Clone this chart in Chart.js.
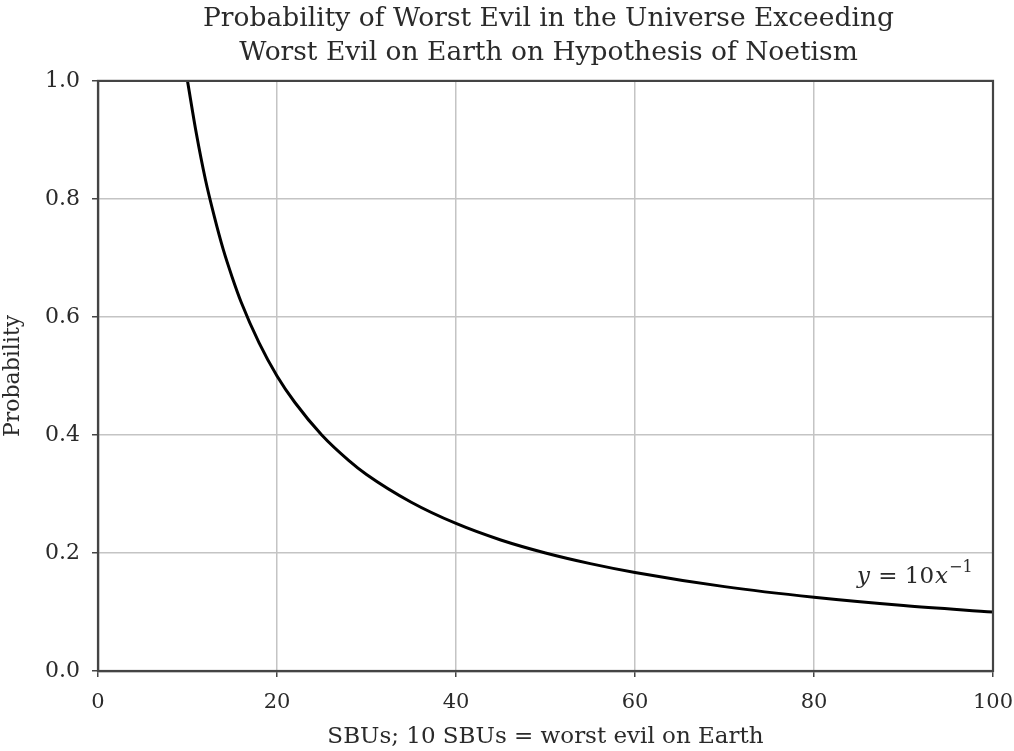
<!DOCTYPE html>
<html>
<head>
<meta charset="utf-8">
<script src="https://cdn.jsdelivr.net/npm/chart.js@4.4.1/dist/chart.umd.min.js"></script>
<style>
  html, body { margin: 0; padding: 0; background: #fff; }
  #wrap { width: 1014px; height: 751px; }
</style>
</head>
<body>
<div id="wrap"><canvas id="chart"></canvas></div>
<script>
// values
const sbuValues = [10, 11, 12, 13, 14, 15, 16, 18, 20, 22, 25, 28, 30, 35, 40, 45, 50, 55, 60, 70, 80, 90, 100];
const probValues = [1.0, 0.91, 0.833, 0.77, 0.714, 0.667, 0.625, 0.556, 0.5, 0.455, 0.4, 0.357, 0.333, 0.286, 0.25, 0.222, 0.2, 0.182, 0.167, 0.143, 0.125, 0.111, 0.1];
const xTicks = [0, 20, 40, 60, 80, 100];
const yTicks = [0.0, 0.2, 0.4, 0.6, 0.8, 1.0];
const titleLines = ["Probability of Worst Evil in the Universe Exceeding", "Worst Evil on Earth on Hypothesis of Noetism"];

const FONT = "'DejaVu Serif', 'Liberation Serif', serif";
const frameColor = "#444";
const textColor = "#2a2a2a";
const titleSize = 26.5;

// top/right frame, title centred over the axes, formula label
const extras = {
  id: "extras",
  afterDraw(chart) {
    const { ctx, chartArea: a, scales } = chart;
    ctx.save();
    ctx.strokeStyle = frameColor;
    ctx.lineWidth = 2.2;
    ctx.strokeRect(a.left, a.top, a.right - a.left, a.bottom - a.top);

    ctx.fillStyle = textColor;
    ctx.font = titleSize + "px " + FONT;
    ctx.textAlign = "center";
    ctx.textBaseline = "middle";
    const cx = (a.left + a.right) / 2 + 3;
    titleLines.forEach((t, i) => ctx.fillText(t, cx, 19 + i * 34));

    // y = 10x^{-1}
    ctx.textAlign = "left";
    ctx.textBaseline = "alphabetic";
    let px = scales.x.getPixelForValue(84.8);
    const py = scales.y.getPixelForValue(0.149);
    const parts = [
      ["italic 23px " + FONT, "y", 0],
      ["23px " + FONT, " = 10", 0],
      ["italic 23px " + FONT, "x", 0],
      ["16px " + FONT, "\u22121", -11]
    ];
    parts.forEach(([f, t, dy]) => {
      ctx.font = f;
      ctx.fillText(t, px, py + dy);
      px += ctx.measureText(t).width + 1;
    });
    ctx.restore();
  }
};

new Chart(document.getElementById("chart"), {
  type: "line",
  data: {
    datasets: [{
      data: sbuValues.map((x, i) => ({ x: x, y: probValues[i] })),
      borderColor: "#000",
      borderWidth: 3,
      pointRadius: 0,
      cubicInterpolationMode: "monotone",
      fill: false
    }]
  },
  options: {
    responsive: true,
    maintainAspectRatio: false,
    animation: false,
    layout: { padding: { left: 0, right: 21, top: 0, bottom: 0 } },
    plugins: {
      legend: { display: false },
      tooltip: { enabled: false },
      title: {
        // only reserves the space; the text is drawn by the plugin
        display: true,
        text: titleLines,
        color: "rgba(0,0,0,0)",
        font: { family: FONT, size: titleSize, weight: "normal", lineHeight: 1.3 },
        padding: { top: 3, bottom: 9 }
      }
    },
    scales: {
      x: {
        type: "linear",
        min: 0,
        max: 100,
        afterBuildTicks: (s) => { s.ticks = xTicks.map(v => ({ value: v })); },
        afterFit: (s) => { s.height = 80; s.paddingLeft = 0; s.paddingRight = 0; },
        grid: { color: "#c4c4c4", lineWidth: 1.5, tickLength: 6, tickColor: frameColor },
        border: { color: frameColor, width: 2.2 },
        ticks: { color: textColor, font: { family: FONT, size: 21 }, padding: 13 },
        title: {
          display: true,
          text: "SBUs; 10 SBUs = worst evil on Earth",
          color: textColor,
          font: { family: FONT, size: 23 },
          padding: { top: 4, bottom: 0 }
        }
      },
      y: {
        min: 0,
        max: 1,
        afterBuildTicks: (s) => { s.ticks = yTicks.map(v => ({ value: v })); },
        afterFit: (s) => { s.width = 98; },
        grid: { color: "#c4c4c4", lineWidth: 1.5, tickLength: 6, tickColor: frameColor },
        border: { color: frameColor, width: 2.2 },
        ticks: {
          color: textColor,
          font: { family: FONT, size: 22 },
          padding: 12,
          callback: (v) => v.toFixed(1)
        },
        title: {
          display: true,
          text: "Probability",
          color: textColor,
          font: { family: FONT, size: 22 },
          padding: { top: 0, bottom: 6 }
        }
      }
    }
  },
  plugins: [extras]
});
</script>
</body>
</html>
